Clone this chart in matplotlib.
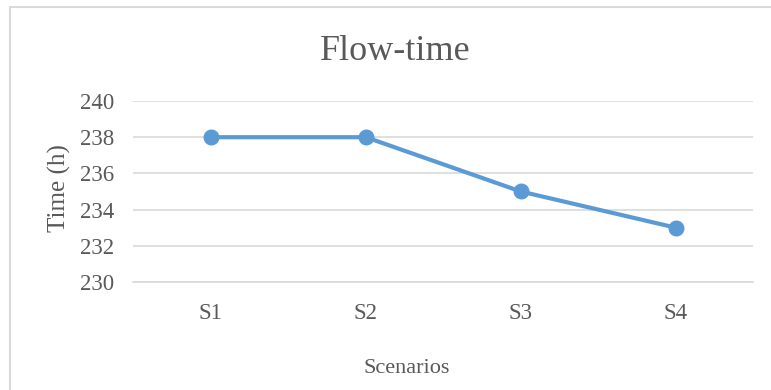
import matplotlib
matplotlib.use("Agg")
import matplotlib.pyplot as plt
from matplotlib.patches import Rectangle

plt.rcParams['font.family'] = ['Liberation Serif', 'DejaVu Serif']

scenarios = ['S1', 'S2', 'S3', 'S4']
flow_time = [238, 238, 235, 233]
yticks = [230, 232, 234, 236, 238, 240]

text_col = '#595959'
grid_col = '#D9D9D9'
line_col = '#5B9BD5'

fig = plt.figure(figsize=(7.71, 3.9), dpi=100)
ax = fig.add_axes([0.173, 0.277, 0.804, 0.464])

x = range(len(scenarios))
ax.plot(x, flow_time, color=line_col, linewidth=3, marker='o', markersize=10.5,
        solid_capstyle='round', zorder=3)

ax.set_xlim(-0.5, len(scenarios) - 0.5)
ax.set_ylim(230, 240)
ax.set_yticks(yticks)
ax.set_xticks(list(x))
ax.set_xticklabels(scenarios)
ax.yaxis.grid(True, color=grid_col, linewidth=1.2)
ax.set_axisbelow(True)
for s in ['top', 'right', 'left']:
    ax.spines[s].set_visible(False)
ax.spines['bottom'].set_color(grid_col)
ax.spines['bottom'].set_linewidth(1.2)
ax.tick_params(axis='both', length=0, labelsize=16.5, labelcolor=text_col)
ax.tick_params(axis='y', pad=14)
ax.tick_params(axis='x', pad=15)

fig.text(0.513, 0.868, 'Flow-time', ha='center', va='center', fontsize=26, color=text_col)
fig.text(0.077, 0.518, 'Time (h)', ha='center', va='center', rotation=90,
         fontsize=18, color=text_col)
fig.text(0.527, 0.054, 'Scenarios', ha='center', va='center', fontsize=16, color=text_col)

# chart frame
fig.patches.append(Rectangle((0.013, -0.05), 1.1, 1.032, transform=fig.transFigure,
                             fill=False, edgecolor=grid_col, linewidth=1.5))

fig.savefig('out.png', dpi=100)
